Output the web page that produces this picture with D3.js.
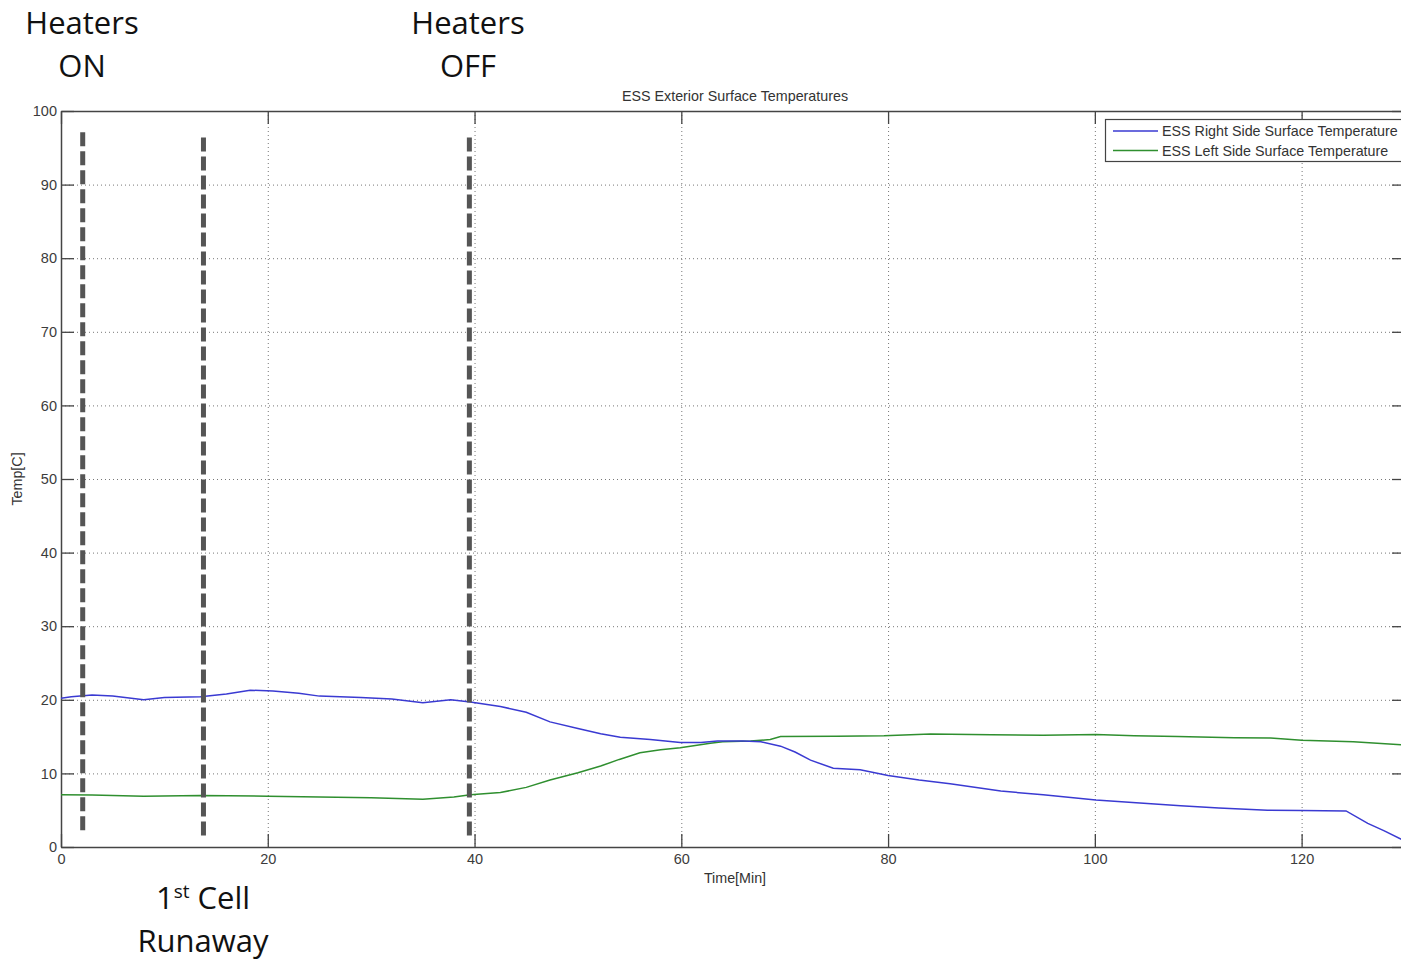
<!DOCTYPE html>
<html>
<head>
<meta charset="utf-8">
<script src="https://cdn.jsdelivr.net/npm/d3@7"></script>
<style>
  body { margin: 0; background: #fff; }
  svg { display: block; }
  .tick text { font-family: "Liberation Sans", Arial, sans-serif; font-size: 14.5px; fill: #3c3c3c; }
  .note { font-family: "Open Sans", sans-serif; font-size: 31px; fill: #111; }
  .small { font-family: "Liberation Sans", Arial, sans-serif; font-size: 14.3px; fill: #333; }
</style>
</head>
<body>
<div id="chart"></div>
<script>
// Right side surface temperature (blue)
const rightTime = [0, 1, 3, 5, 8, 10, 13.5, 16, 18.3, 20.5, 23, 25, 29, 32, 35, 37.7, 39.6, 42.5, 45, 47.3,
  50, 52.2, 54.1, 57, 59.9, 61.9, 63.5, 66, 67.7, 69.6, 71, 72.5, 74.7, 77.3, 80, 83, 86, 90.9, 95,
  100.1, 104, 108.3, 112, 116.7, 120, 124.3, 126.4, 128, 129.7]
const rightTemp = [20.2, 20.4, 20.65, 20.5, 20.0, 20.3, 20.4, 20.8, 21.3, 21.2, 20.9, 20.5, 20.3, 20.1, 19.6, 20.0, 19.7, 19.1, 18.3, 17.0,
  16.1, 15.4, 14.9, 14.6, 14.2, 14.2, 14.4, 14.4, 14.3, 13.7, 12.9, 11.8, 10.7, 10.5, 9.7, 9.1, 8.6, 7.6, 7.1,
  6.4, 6.0, 5.6, 5.3, 5.0, 4.95, 4.9, 3.2, 2.2, 1.0]

// Left side surface temperature (green)
const leftTime = [0, 3, 8, 13.5, 20, 25, 30, 35, 38, 39.6, 42.5, 45, 47.3, 50, 52.2, 54, 56, 58, 59.9, 62.8,
  64, 66.7, 68.6, 69.6, 75, 79.6, 84.1, 90, 95, 100.1, 103.8, 108, 113.5, 117, 120, 125, 129.7]
const leftTemp = [7.1, 7.05, 6.9, 7.0, 6.9, 6.8, 6.7, 6.5, 6.8, 7.1, 7.4, 8.1, 9.1, 10.1, 11.0, 11.9, 12.8, 13.2, 13.5, 14.1,
  14.3, 14.4, 14.6, 15.0, 15.05, 15.1, 15.35, 15.25, 15.2, 15.3, 15.1, 15.0, 14.85, 14.8, 14.5, 14.3, 13.9]

// Event markers (thick dashed lines)
const markerTime = [2.1, 13.78, 39.5]
const markerTop = [97.1, 96.4, 96.4]
const markerBottom = [2.1, 1.3, 1.4]

const seriesNames = ["ESS Right Side Surface Temperature", "ESS Left Side Surface Temperature"]
const seriesColors = ["#3a3ad2", "#2f8f2f"]

const xTicks = [0, 20, 40, 60, 80, 100, 120]
const yTicks = [0, 10, 20, 30, 40, 50, 60, 70, 80, 90, 100]

const width = 1401
const height = 963
const margin = { left: 61, top: 111, right: 1405, bottom: 847 }

const svg = d3.select("#chart").append("svg")
    .attr("width", width)
    .attr("height", height)

const x = d3.scaleLinear().domain([0, 130]).range([margin.left, margin.right])
const y = d3.scaleLinear().domain([0, 100]).range([margin.bottom, margin.top])

// Grid lines
const grid = svg.append("g")
grid.selectAll(".gx")
  .data(xTicks.filter(function(d) { return d > 0 }))
  .enter().append("line")
    .attr("x1", function(d) { return x(d) + 0.5 })
    .attr("x2", function(d) { return x(d) + 0.5 })
    .attr("y1", margin.top)
    .attr("y2", margin.bottom)
    .attr("stroke", "#777")
    .attr("stroke-dasharray", "1,3")
grid.selectAll(".gy")
  .data(yTicks.filter(function(d) { return d > 0 && d < 100 }))
  .enter().append("line")
    .attr("x1", margin.left)
    .attr("x2", margin.right)
    .attr("y1", function(d) { return y(d) + 0.5 })
    .attr("y2", function(d) { return y(d) + 0.5 })
    .attr("stroke", "#777")
    .attr("stroke-dasharray", "1,3")

// Axes with inward ticks (MATLAB style)
const tickLen = 13
const xAxis = svg.append("g")
    .attr("transform", "translate(0," + margin.bottom + ")")
    .call(d3.axisBottom(x).tickValues(xTicks).tickSizeInner(-tickLen).tickSizeOuter(0).tickPadding(7))
const yAxis = svg.append("g")
    .attr("transform", "translate(" + margin.left + ",0)")
    .call(d3.axisLeft(y).tickValues(yTicks).tickSizeInner(-tickLen).tickSizeOuter(0).tickPadding(4))
const xTop = svg.append("g")
    .attr("transform", "translate(0," + margin.top + ")")
    .call(d3.axisTop(x).tickValues(xTicks).tickSizeInner(-tickLen).tickSizeOuter(0).tickFormat(""))
const yRight = svg.append("g")
    .attr("transform", "translate(" + margin.right + ",0)")
    .call(d3.axisRight(y).tickValues(yTicks).tickSizeInner(-tickLen).tickSizeOuter(0).tickFormat(""))

svg.selectAll(".domain").attr("stroke", "#444").attr("stroke-width", 1.5)
svg.selectAll(".tick line").attr("stroke", "#444").attr("stroke-width", 1.3)

// Data lines
const line = d3.line()
    .x(function(d) { return x(d[0]) })
    .y(function(d) { return y(d[1]) })

const rightData = d3.zip(rightTime, rightTemp)
const leftData = d3.zip(leftTime, leftTemp)

svg.append("path")
    .datum(leftData)
    .attr("d", line)
    .attr("fill", "none")
    .attr("stroke", seriesColors[1])
    .attr("stroke-width", 1.5)
svg.append("path")
    .datum(rightData)
    .attr("d", line)
    .attr("fill", "none")
    .attr("stroke", seriesColors[0])
    .attr("stroke-width", 1.5)

// Event markers
svg.selectAll(".marker")
  .data(markerTime)
  .enter().append("line")
    .attr("class", "marker")
    .attr("x1", function(d) { return x(d) })
    .attr("x2", function(d) { return x(d) })
    .attr("y1", function(d, i) { return y(markerTop[i]) })
    .attr("y2", function(d, i) { return y(markerBottom[i]) })
    .attr("stroke", "#555")
    .attr("stroke-width", 5)
    .attr("stroke-dasharray", "14,5")

// Legend
const legend = svg.append("g")
legend.append("rect")
    .attr("x", 1105.5)
    .attr("y", 119.5)
    .attr("width", 320)
    .attr("height", 42)
    .attr("fill", "#fff")
    .attr("stroke", "#444")
    .attr("stroke-width", 1.2)
seriesNames.forEach(function(name, i) {
  let ly = 131 + i * 19.5
  legend.append("line")
      .attr("x1", 1113).attr("x2", 1158)
      .attr("y1", ly).attr("y2", ly)
      .attr("stroke", seriesColors[i])
      .attr("stroke-width", 1.3)
  legend.append("text")
      .attr("class", "small")
      .attr("x", 1162)
      .attr("y", ly + 5)
      .text(name)
})

// Titles
svg.append("text")
    .attr("class", "small")
    .attr("x", 735)
    .attr("y", 101)
    .attr("text-anchor", "middle")
    .text("ESS Exterior Surface Temperatures")
svg.append("text")
    .attr("class", "small")
    .attr("x", 735)
    .attr("y", 883)
    .attr("text-anchor", "middle")
    .text("Time[Min]")
svg.append("text")
    .attr("class", "small")
    .attr("transform", "translate(22,479) rotate(-90)")
    .attr("text-anchor", "middle")
    .text("Temp[C]")

// Annotations
function note(cx, lines, baseY) {
  lines.forEach(function(t, i) {
    svg.append("text")
        .attr("class", "note")
        .attr("x", cx)
        .attr("y", baseY + i * 43)
        .attr("text-anchor", "middle")
        .text(t)
  })
}
note(82, ["Heaters", "ON"], 34)
note(468, ["Heaters", "OFF"], 34)

const cell = svg.append("text")
    .attr("class", "note")
    .attr("x", 203)
    .attr("y", 909)
    .attr("text-anchor", "middle")
cell.append("tspan").text("1")
cell.append("tspan").attr("dy", -11).style("font-size", "19px").text("st")
cell.append("tspan").attr("dy", 11).text(" Cell")
note(203, ["Runaway"], 952)
</script>
</body>
</html>
